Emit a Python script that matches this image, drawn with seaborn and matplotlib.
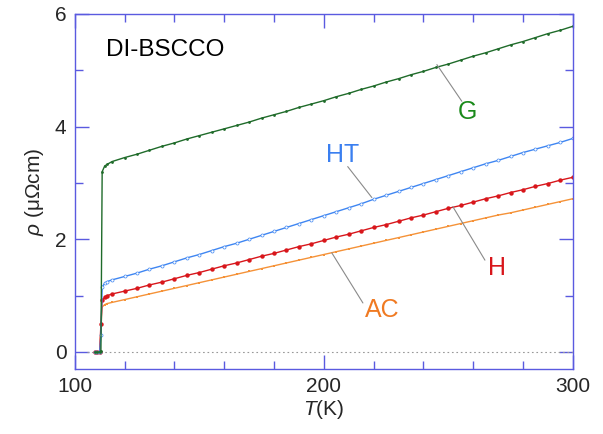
import matplotlib
matplotlib.use("Agg")
import matplotlib.pyplot as plt
from matplotlib.ticker import MultipleLocator
import seaborn as sns
import pandas as pd

# === DATA ===
temp = [108, 109, 110, 110.5, 111, 112, 113, 115, 120, 125, 130, 135, 140, 145,
        150, 155, 160, 165, 170, 175, 180, 185, 190, 195, 200, 205, 210, 215,
        220, 225, 230, 235, 240, 245, 250, 255, 260, 265, 270, 275, 280, 285,
        290, 295, 300]

rho_g = [0.0, 0.0, 0.0, 0.02, 3.20, 3.30, 3.33, 3.38, 3.45, 3.51, 3.58, 3.65,
         3.71, 3.78, 3.84, 3.90, 3.96, 4.02, 4.08, 4.15, 4.21, 4.27, 4.34, 4.40,
         4.46, 4.53, 4.59, 4.66, 4.72, 4.79, 4.85, 4.92, 4.98, 5.05, 5.11, 5.18,
         5.25, 5.31, 5.38, 5.45, 5.51, 5.58, 5.65, 5.71, 5.78]

rho_ht = [0.0, 0.0, 0.0, 0.30, 1.15, 1.22, 1.25, 1.28, 1.34, 1.40, 1.47, 1.53,
          1.60, 1.67, 1.73, 1.80, 1.87, 1.93, 2.00, 2.07, 2.14, 2.21, 2.28, 2.35,
          2.42, 2.49, 2.56, 2.63, 2.71, 2.78, 2.85, 2.92, 2.99, 3.06, 3.13, 3.20,
          3.27, 3.34, 3.40, 3.47, 3.54, 3.60, 3.66, 3.72, 3.79]

rho_h = [0.0, 0.0, 0.0, 0.50, 0.92, 0.97, 1.00, 1.03, 1.08, 1.13, 1.19, 1.24,
         1.30, 1.36, 1.41, 1.47, 1.53, 1.58, 1.64, 1.70, 1.75, 1.81, 1.87, 1.92,
         1.98, 2.04, 2.09, 2.15, 2.21, 2.26, 2.32, 2.38, 2.43, 2.49, 2.55, 2.60,
         2.66, 2.72, 2.77, 2.83, 2.88, 2.94, 2.99, 3.05, 3.10]

rho_ac = [0.0, 0.0, 0.0, 0.40, 0.80, 0.84, 0.86, 0.88, 0.93, 0.98, 1.03, 1.08,
          1.13, 1.18, 1.23, 1.28, 1.33, 1.38, 1.43, 1.48, 1.53, 1.58, 1.63, 1.68,
          1.73, 1.78, 1.83, 1.88, 1.93, 1.98, 2.03, 2.08, 2.13, 2.18, 2.23, 2.28,
          2.33, 2.38, 2.43, 2.47, 2.52, 2.57, 2.62, 2.67, 2.72]

labels = ["G", "HT", "H", "AC"]
# label text position and leader line (start on curve -> end near text)
label_pos = [(257.8, 4.26), (207.6, 3.50), (269.5, 1.49), (223.3, 0.75)]
leader_start = [(245.4, 5.10), (219.3, 2.74), (251.8, 2.58), (203.2, 1.76)]
leader_end = [(255.4, 4.45), (209.6, 3.29), (264.7, 1.63), (215.7, 0.87)]

df = pd.DataFrame({"T": temp, "G": rho_g, "HT": rho_ht, "H": rho_h, "AC": rho_ac})

# === STYLE ===
sns.set_theme(style="ticks")
plt.rcParams["font.family"] = ["Liberation Sans", "DejaVu Sans"]
plt.rcParams["mathtext.fontset"] = "custom"
plt.rcParams["mathtext.it"] = "Liberation Sans:italic"
plt.rcParams["mathtext.rm"] = "Liberation Sans"

axis_blue = "#5a5ae0"
line_colors = {"G": "#1f6b2a", "HT": "#3f86f2", "H": "#d8161b", "AC": "#f59238"}
text_colors = {"G": "#1a8a1a", "HT": "#3a7ff0", "H": "#d8161b", "AC": "#f07a22"}

fig = plt.figure(figsize=(6.03, 4.34), dpi=100)
ax = fig.add_axes([0.124, 0.150, 0.826, 0.818])

# zero reference line
ax.plot([105, 300], [0, 0], color="#999999", lw=0.8, ls=(0, (1.5, 2.5)), zorder=1)

sns.lineplot(data=df, x="T", y="AC", ax=ax, color=line_colors["AC"], lw=1.0,
             marker="s", markersize=2, markeredgewidth=0, sort=False)
sns.lineplot(data=df, x="T", y="H", ax=ax, color=line_colors["H"], lw=1.0,
             marker="o", markersize=3.2, markeredgewidth=0, sort=False)
sns.lineplot(data=df, x="T", y="HT", ax=ax, color=line_colors["HT"], lw=1.0,
             marker="o", markersize=2.2, markerfacecolor="white",
             markeredgecolor=line_colors["HT"], markeredgewidth=0.5, sort=False)
sns.lineplot(data=df, x="T", y="G", ax=ax, color=line_colors["G"], lw=1.0,
             marker="o", markersize=2, markeredgewidth=0, sort=False)

# labels with leader lines
for lab, pos, s, e in zip(labels, label_pos, leader_start, leader_end):
    ax.plot([s[0], e[0]], [s[1], e[1]], color="#8a8a8a", lw=0.8)
    ax.text(pos[0], pos[1], lab, color=text_colors[lab], fontsize=18,
            ha="center", va="center")

ax.text(0.062, 0.899, "DI-BSCCO", transform=ax.transAxes, fontsize=17.5,
        ha="left", va="center", color="black")

# === AXES ===
ax.set_xlim(100, 300)
ax.set_ylim(-0.3, 6)
ax.xaxis.set_major_locator(MultipleLocator(100))
ax.xaxis.set_minor_locator(MultipleLocator(20))
ax.yaxis.set_major_locator(MultipleLocator(2))
ax.yaxis.set_minor_locator(MultipleLocator(1))
ax.tick_params(which="both", direction="in", top=True, right=True,
               color=axis_blue, labelsize=15, width=1.0)
ax.tick_params(which="major", length=10, pad=6)
ax.tick_params(which="minor", length=6)
for sp in ax.spines.values():
    sp.set_color(axis_blue)
    sp.set_linewidth(1.0)

ax.set_xlabel(r"$\it{T}$(K)", fontsize=15, labelpad=1)
ax.set_ylabel(r"$\it{\rho}$ (μΩcm)", fontsize=15, labelpad=6)

fig.savefig("out.png", dpi=100)
plt.close(fig)
